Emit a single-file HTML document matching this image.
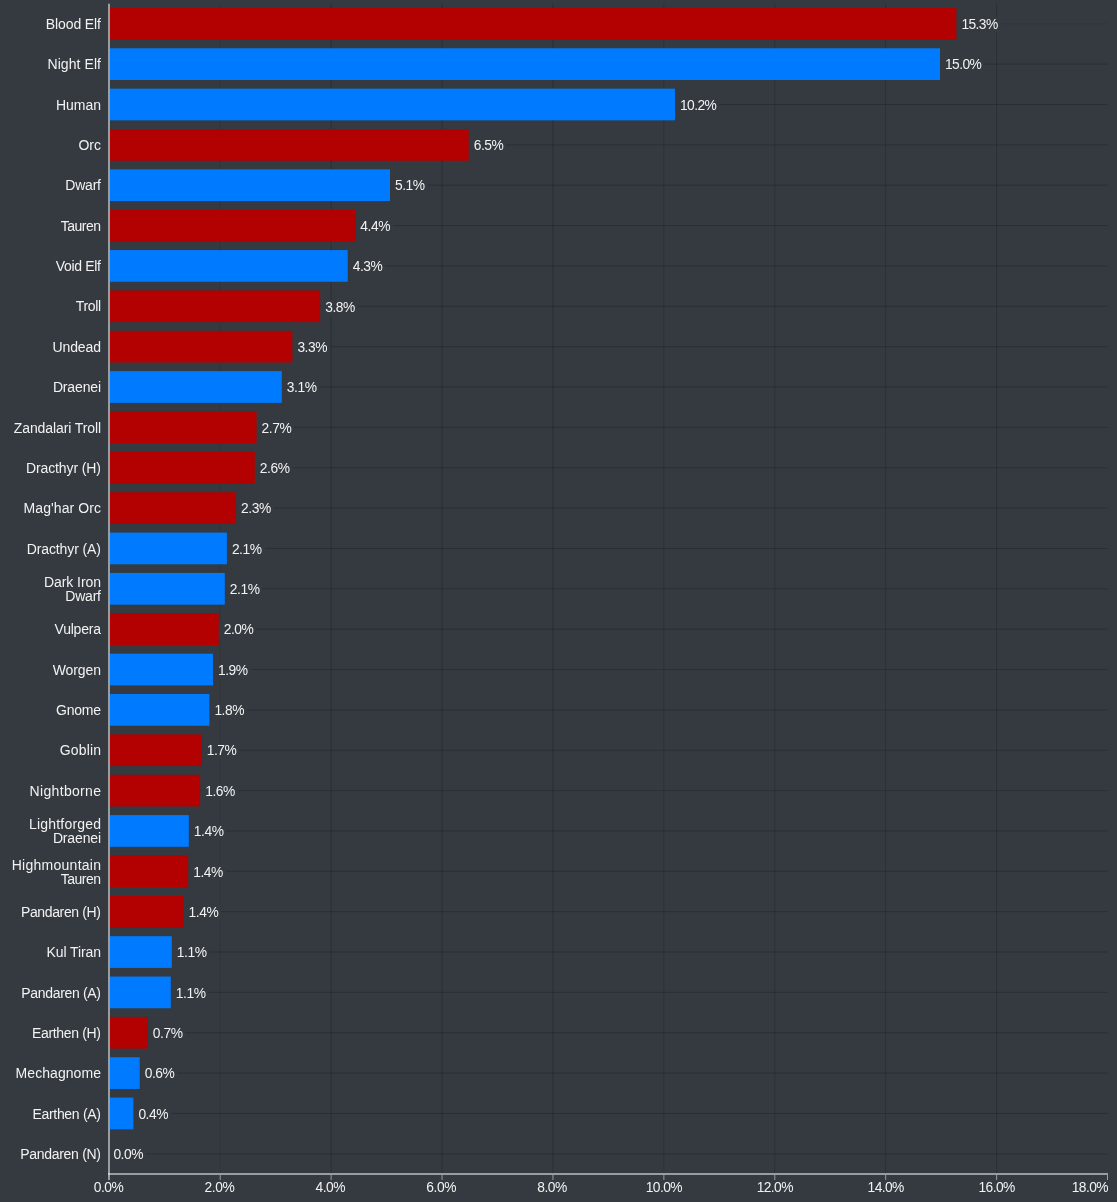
<!DOCTYPE html>
<html lang="en"><head><meta charset="utf-8"><title>Race distribution</title>
<style>
html,body{margin:0;padding:0;}
body{width:1117px;height:1202px;background:#343a40;overflow:hidden;position:relative;
 font-family:"Liberation Sans",Arial,sans-serif;color:#f2f2f2;}
#c{position:absolute;left:0;top:0;width:1117px;height:1202px;overflow:hidden;}
svg{position:absolute;left:0;top:0;}
.cl{position:absolute;left:0;width:101px;text-align:right;font-size:14px;line-height:14px;letter-spacing:0;white-space:nowrap;}
.vl{position:absolute;font-size:13.8px;line-height:16px;height:16px;padding:0 3px 0 5px;background:#343a40;letter-spacing:-0.45px;white-space:nowrap;}
.tl{position:absolute;width:60px;text-align:center;font-size:13.8px;line-height:16px;letter-spacing:-0.45px;top:1180px;white-space:nowrap;}
</style></head>
<body><div id="c">
<svg width="1117" height="1202" viewBox="0 0 1117 1202">
<g stroke="#000" stroke-opacity="0.19" stroke-width="1" fill="none">
<line x1="220.21" y1="3.6" x2="220.21" y2="1173.0" stroke-opacity="0.08"/>
<line x1="331.12" y1="3.6" x2="331.12" y2="1173.0"/>
<line x1="442.03" y1="3.6" x2="442.03" y2="1173.0"/>
<line x1="552.94" y1="3.6" x2="552.94" y2="1173.0"/>
<line x1="663.86" y1="3.6" x2="663.86" y2="1173.0" stroke-opacity="0.13"/>
<line x1="774.77" y1="3.6" x2="774.77" y2="1173.0" stroke-opacity="0.15"/>
<line x1="885.68" y1="3.6" x2="885.68" y2="1173.0"/>
<line x1="996.59" y1="3.6" x2="996.59" y2="1173.0"/>
<line x1="110" y1="23.78" x2="1107.5" y2="23.78" stroke-opacity="0.08"/>
<line x1="110" y1="64.14" x2="1107.5" y2="64.14"/>
<line x1="110" y1="104.50" x2="1107.5" y2="104.50"/>
<line x1="110" y1="144.86" x2="1107.5" y2="144.86"/>
<line x1="110" y1="185.21" x2="1107.5" y2="185.21"/>
<line x1="110" y1="225.57" x2="1107.5" y2="225.57"/>
<line x1="110" y1="265.93" x2="1107.5" y2="265.93"/>
<line x1="110" y1="306.29" x2="1107.5" y2="306.29"/>
<line x1="110" y1="346.65" x2="1107.5" y2="346.65"/>
<line x1="110" y1="387.01" x2="1107.5" y2="387.01"/>
<line x1="110" y1="427.37" x2="1107.5" y2="427.37"/>
<line x1="110" y1="467.72" x2="1107.5" y2="467.72"/>
<line x1="110" y1="508.08" x2="1107.5" y2="508.08"/>
<line x1="110" y1="548.44" x2="1107.5" y2="548.44"/>
<line x1="110" y1="588.80" x2="1107.5" y2="588.80"/>
<line x1="110" y1="629.16" x2="1107.5" y2="629.16"/>
<line x1="110" y1="669.52" x2="1107.5" y2="669.52"/>
<line x1="110" y1="709.88" x2="1107.5" y2="709.88"/>
<line x1="110" y1="750.23" x2="1107.5" y2="750.23"/>
<line x1="110" y1="790.59" x2="1107.5" y2="790.59"/>
<line x1="110" y1="830.95" x2="1107.5" y2="830.95"/>
<line x1="110" y1="871.31" x2="1107.5" y2="871.31"/>
<line x1="110" y1="911.67" x2="1107.5" y2="911.67"/>
<line x1="110" y1="952.03" x2="1107.5" y2="952.03"/>
<line x1="110" y1="992.39" x2="1107.5" y2="992.39"/>
<line x1="110" y1="1032.74" x2="1107.5" y2="1032.74"/>
<line x1="110" y1="1073.10" x2="1107.5" y2="1073.10"/>
<line x1="110" y1="1113.46" x2="1107.5" y2="1113.46"/>
<line x1="110" y1="1153.82" x2="1107.5" y2="1153.82"/>
</g>
<rect x="110" y="7.93" width="846.40" height="31.7" fill="#b30000"/>
<rect x="110" y="48.29" width="830.00" height="31.7" fill="#007bff"/>
<rect x="110" y="88.65" width="565.00" height="31.7" fill="#007bff"/>
<rect x="110" y="129.01" width="358.70" height="31.7" fill="#b30000"/>
<rect x="110" y="169.36" width="280.00" height="31.7" fill="#007bff"/>
<rect x="110" y="209.72" width="245.30" height="31.7" fill="#b30000"/>
<rect x="110" y="250.08" width="237.70" height="31.7" fill="#007bff"/>
<rect x="110" y="290.44" width="210.20" height="31.7" fill="#b30000"/>
<rect x="110" y="330.80" width="182.40" height="31.7" fill="#b30000"/>
<rect x="110" y="371.16" width="171.80" height="31.7" fill="#007bff"/>
<rect x="110" y="411.52" width="146.60" height="31.7" fill="#b30000"/>
<rect x="110" y="451.87" width="144.80" height="31.7" fill="#b30000"/>
<rect x="110" y="492.23" width="126.10" height="31.7" fill="#b30000"/>
<rect x="110" y="532.59" width="116.90" height="31.7" fill="#007bff"/>
<rect x="110" y="572.95" width="114.80" height="31.7" fill="#007bff"/>
<rect x="110" y="613.31" width="108.70" height="31.7" fill="#b30000"/>
<rect x="110" y="653.67" width="103.00" height="31.7" fill="#007bff"/>
<rect x="110" y="694.03" width="99.40" height="31.7" fill="#007bff"/>
<rect x="110" y="734.38" width="91.70" height="31.7" fill="#b30000"/>
<rect x="110" y="774.74" width="90.20" height="31.7" fill="#b30000"/>
<rect x="110" y="815.10" width="78.80" height="31.7" fill="#007bff"/>
<rect x="110" y="855.46" width="78.20" height="31.7" fill="#b30000"/>
<rect x="110" y="895.82" width="73.60" height="31.7" fill="#b30000"/>
<rect x="110" y="936.18" width="61.80" height="31.7" fill="#007bff"/>
<rect x="110" y="976.54" width="60.80" height="31.7" fill="#007bff"/>
<rect x="110" y="1016.89" width="37.80" height="31.7" fill="#b30000"/>
<rect x="110" y="1057.25" width="29.70" height="31.7" fill="#007bff"/>
<rect x="110" y="1097.61" width="23.40" height="31.7" fill="#007bff"/>
<g fill="#fff" fill-opacity="0.50">
<rect x="108" y="3.7" width="2" height="1176.3"/>
<rect x="108" y="1173" width="1000" height="2"/>
<rect x="219.71" y="1175" width="1" height="5"/>
<rect x="330.62" y="1175" width="1" height="5"/>
<rect x="441.53" y="1175" width="1" height="5"/>
<rect x="552.44" y="1175" width="1" height="5"/>
<rect x="663.36" y="1175" width="1" height="5"/>
<rect x="774.27" y="1175" width="1" height="5"/>
<rect x="885.18" y="1175" width="1" height="5"/>
<rect x="996.09" y="1175" width="1" height="5"/>
<rect x="1107.00" y="1175" width="1" height="5"/>
</g>
</svg>
<div class="cl" style="top:16.9px"><span style="letter-spacing:-0.10px;margin-right:0.10px">Blood Elf</span></div><div class="vl" style="letter-spacing:-0.58px;left:957px;padding-left:4.4px;top:17.0px">15.3%</div>
<div class="cl" style="top:57.3px"><span style="letter-spacing:0.08px;margin-right:-0.08px">Night Elf</span></div><div class="vl" style="letter-spacing:-0.58px;left:940px;padding-left:5.0px;top:57.3px">15.0%</div>
<div class="cl" style="top:97.7px"><span style="letter-spacing:-0.04px;margin-right:0.04px">Human</span></div><div class="vl" style="letter-spacing:-0.58px;left:675px;padding-left:5.0px;top:97.7px">10.2%</div>
<div class="cl" style="top:138.0px"><span>Orc</span></div><div class="vl" style="left:469px;padding-left:4.7px;top:138.1px">6.5%</div>
<div class="cl" style="top:178.4px"><span style="letter-spacing:-0.20px;margin-right:0.20px">Dwarf</span></div><div class="vl" style="left:390px;padding-left:5.0px;top:178.4px">5.1%</div>
<div class="cl" style="top:218.7px"><span style="letter-spacing:-0.51px;margin-right:0.51px">Tauren</span></div><div class="vl" style="left:356px;padding-left:4.3px;top:218.8px">4.4%</div>
<div class="cl" style="top:259.1px"><span style="letter-spacing:-0.31px;margin-right:0.31px">Void Elf</span></div><div class="vl" style="left:348px;padding-left:4.7px;top:259.1px">4.3%</div>
<div class="cl" style="top:299.4px"><span style="letter-spacing:-0.38px;margin-right:0.38px">Troll</span></div><div class="vl" style="left:321px;padding-left:4.2px;top:299.5px">3.8%</div>
<div class="cl" style="top:339.8px"><span style="letter-spacing:-0.10px;margin-right:0.10px">Undead</span></div><div class="vl" style="left:293px;padding-left:4.4px;top:339.8px">3.3%</div>
<div class="cl" style="top:380.2px"><span style="letter-spacing:-0.16px;margin-right:0.16px">Draenei</span></div><div class="vl" style="left:282px;padding-left:4.8px;top:380.2px">3.1%</div>
<div class="cl" style="top:420.5px"><span style="letter-spacing:-0.11px;margin-right:0.11px">Zandalari Troll</span></div><div class="vl" style="left:257px;padding-left:4.6px;top:420.6px">2.7%</div>
<div class="cl" style="top:460.9px"><span style="letter-spacing:-0.10px;margin-right:0.10px">Dracthyr (H)</span></div><div class="vl" style="left:255px;padding-left:4.8px;top:460.9px">2.6%</div>
<div class="cl" style="top:501.2px"><span style="letter-spacing:0.08px;margin-right:-0.08px">Mag'har Orc</span></div><div class="vl" style="left:237px;padding-left:4.1px;top:501.3px">2.3%</div>
<div class="cl" style="top:541.6px"><span style="letter-spacing:-0.10px;margin-right:0.10px">Dracthyr (A)</span></div><div class="vl" style="left:227px;padding-left:4.9px;top:541.6px">2.1%</div>
<div class="cl" style="top:575.0px"><span style="letter-spacing:-0.06px;margin-right:0.06px">Dark Iron</span><br><span style="letter-spacing:-0.20px;margin-right:0.20px">Dwarf</span></div><div class="vl" style="left:225px;padding-left:4.8px;top:582.0px">2.1%</div>
<div class="cl" style="top:622.3px"><span style="letter-spacing:-0.21px;margin-right:0.21px">Vulpera</span></div><div class="vl" style="left:219px;padding-left:4.7px;top:622.4px">2.0%</div>
<div class="cl" style="top:662.7px"><span style="letter-spacing:-0.10px;margin-right:0.10px">Worgen</span></div><div class="vl" style="left:213px;padding-left:5.0px;top:662.7px">1.9%</div>
<div class="cl" style="top:703.0px"><span style="letter-spacing:-0.24px;margin-right:0.24px">Gnome</span></div><div class="vl" style="left:210px;padding-left:4.4px;top:703.1px">1.8%</div>
<div class="cl" style="top:743.4px"><span style="letter-spacing:0.15px;margin-right:-0.15px">Goblin</span></div><div class="vl" style="left:202px;padding-left:4.7px;top:743.4px">1.7%</div>
<div class="cl" style="top:783.8px"><span style="letter-spacing:0.32px;margin-right:-0.32px">Nightborne</span></div><div class="vl" style="left:201px;padding-left:4.2px;top:783.8px">1.6%</div>
<div class="cl" style="top:817.1px"><span style="letter-spacing:0.19px;margin-right:-0.19px">Lightforged</span><br><span style="letter-spacing:-0.16px;margin-right:0.16px">Draenei</span></div><div class="vl" style="left:189px;padding-left:4.8px;top:824.2px">1.4%</div>
<div class="cl" style="top:857.5px"><span style="letter-spacing:0.26px;margin-right:-0.26px">Highmountain</span><br><span style="letter-spacing:-0.51px;margin-right:0.51px">Tauren</span></div><div class="vl" style="left:189px;padding-left:4.2px;top:864.5px">1.4%</div>
<div class="cl" style="top:904.8px"><span style="letter-spacing:-0.36px;margin-right:0.36px">Pandaren (H)</span></div><div class="vl" style="left:184px;padding-left:4.6px;top:904.9px">1.4%</div>
<div class="cl" style="top:945.2px"><span style="letter-spacing:-0.10px;margin-right:0.10px">Kul Tiran</span></div><div class="vl" style="left:172px;padding-left:4.8px;top:945.2px">1.1%</div>
<div class="cl" style="top:985.5px"><span style="letter-spacing:-0.33px;margin-right:0.33px">Pandaren (A)</span></div><div class="vl" style="left:171px;padding-left:4.8px;top:985.6px">1.1%</div>
<div class="cl" style="top:1025.9px"><span style="letter-spacing:-0.34px;margin-right:0.34px">Earthen (H)</span></div><div class="vl" style="left:148px;padding-left:4.8px;top:1025.9px">0.7%</div>
<div class="cl" style="top:1066.3px"><span style="letter-spacing:0.06px;margin-right:-0.06px">Mechagnome</span></div><div class="vl" style="left:140px;padding-left:4.7px;top:1066.3px">0.6%</div>
<div class="cl" style="top:1106.6px"><span style="letter-spacing:-0.30px;margin-right:0.30px">Earthen (A)</span></div><div class="vl" style="left:134px;padding-left:4.4px;top:1106.7px">0.4%</div>
<div class="cl" style="top:1147.0px"><span style="letter-spacing:-0.29px;margin-right:0.29px">Pandaren (N)</span></div><div class="vl" style="left:110px;padding-left:3.4px;top:1147.0px">0.0%</div>
<div class="tl" style="left:78.5px">0.0%</div>
<div class="tl" style="left:189.4px">2.0%</div>
<div class="tl" style="left:300.3px">4.0%</div>
<div class="tl" style="left:411.2px">6.0%</div>
<div class="tl" style="left:522.1px">8.0%</div>
<div class="tl" style="letter-spacing:-0.58px;left:633.9px">10.0%</div>
<div class="tl" style="letter-spacing:-0.58px;left:744.8px">12.0%</div>
<div class="tl" style="letter-spacing:-0.58px;left:855.7px">14.0%</div>
<div class="tl" style="letter-spacing:-0.58px;left:966.6px">16.0%</div>
<div class="tl" style="letter-spacing:-0.58px;left:auto;right:9px;text-align:right">18.0%</div>
</div></body></html>
